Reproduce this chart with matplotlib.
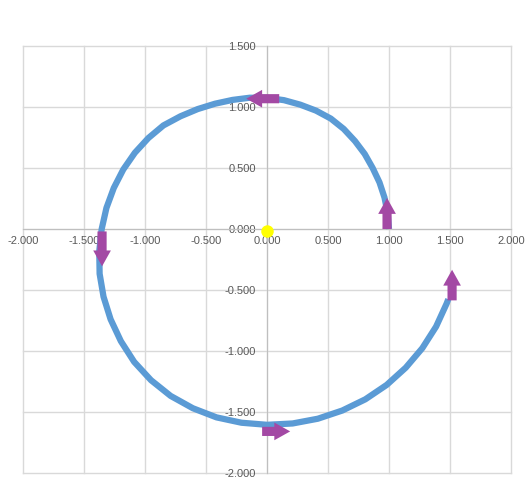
import matplotlib
matplotlib.use('Agg')
import matplotlib.pyplot as plt
from matplotlib.patches import FancyArrow
from matplotlib.ticker import FormatStrFormatter

# path (counter-clockwise from (1, 0))
curve_x = [1.0, 0.989, 0.963, 0.922, 0.866, 0.801, 0.721, 0.629, 0.523,
           0.402, 0.273, 0.139, 0.0, -0.142, -0.283, -0.426, -0.568, -0.709,
           -0.849, -0.972, -1.083, -1.178, -1.256, -1.316, -1.355, -1.375,
           -1.372, -1.340, -1.282, -1.198, -1.089, -0.951, -0.790, -0.608,
           -0.414, -0.209, 0.0, 0.210, 0.417, 0.617, 0.806, 0.981, 1.137,
           1.273, 1.386, 1.473, 1.486]
curve_y = [0.0, 0.130, 0.258, 0.382, 0.500, 0.615, 0.721, 0.820, 0.905,
           0.970, 1.019, 1.056, 1.075, 1.076, 1.058, 1.027, 0.983, 0.924,
           0.849, 0.746, 0.625, 0.488, 0.336, 0.173, 0.0, -0.181,
           -0.367, -0.555, -0.740, -0.919, -1.089, -1.239, -1.368, -1.469,
           -1.544, -1.588, -1.605, -1.594, -1.555, -1.488, -1.396, -1.278, -1.137,
           -0.977, -0.800, -0.610, -0.575]

# direction arrows: start point and vector
arrow_x = [0.984, 0.10, -1.352, -0.04, 1.517]
arrow_y = [0.0, 1.068, -0.02, -1.659, -0.585]
arrow_dx = [0.0, -0.27, 0.0, 0.23, 0.0]
arrow_dy = [0.254, 0.0, -0.286, 0.0, 0.251]

center = (0.0, -0.02)

xticks = [-2.0, -1.5, -1.0, -0.5, 0.0, 0.5, 1.0, 1.5, 2.0]
yticks = [-2.0, -1.5, -1.0, -0.5, 0.0, 0.5, 1.0, 1.5]

plt.rcParams['font.family'] = ['Liberation Sans', 'DejaVu Sans']
plt.rcParams['axes.unicode_minus'] = False

fig = plt.figure(figsize=(5.31, 4.87), dpi=100)
ax = fig.add_axes([23/531, 14/487, 488/531, 427/487])
ax.set_xlim(-2, 2)
ax.set_ylim(-2, 1.5)

ax.set_xticks(xticks)
ax.set_yticks(yticks)
ax.xaxis.set_major_formatter(FormatStrFormatter('%.3f'))
ax.yaxis.set_major_formatter(FormatStrFormatter('%.3f'))
ax.tick_params(axis='both', length=0, labelsize=8, labelcolor='#595959')
ax.tick_params(axis='y', pad=8)
ax.tick_params(axis='x', pad=5)

for t in xticks:
  ax.axvline(t, color='#D9D9D9', lw=1, clip_on=False, zorder=0)
for t in yticks:
  ax.axhline(t, color='#D9D9D9', lw=1, clip_on=False, zorder=0)

ax.spines['left'].set_position('zero')
ax.spines['bottom'].set_position('zero')
ax.spines['left'].set_color('#BFBFBF')
ax.spines['bottom'].set_color('#BFBFBF')
ax.spines['top'].set_visible(False)
ax.spines['right'].set_visible(False)

ax.plot(curve_x, curve_y, color='#5B9BD5', lw=4.5, solid_joinstyle='round',
        solid_capstyle='butt', zorder=3)

for x, y, dx, dy in zip(arrow_x, arrow_y, arrow_dx, arrow_dy):
  ax.add_patch(FancyArrow(x, y, dx, dy, width=0.075, head_width=0.145,
                          head_length=0.13, length_includes_head=True,
                          color='#A349A4', lw=0, zorder=4))

ax.plot([center[0]], [center[1]], 'o', color='#FFFF00', ms=9, mec='none', zorder=5)

fig.savefig('out.png', dpi=100)
